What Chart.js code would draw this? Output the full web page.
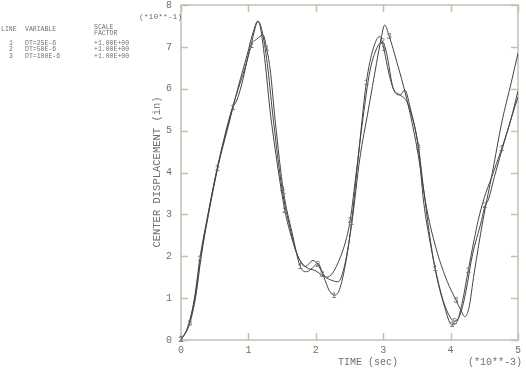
<!DOCTYPE html>
<html>
<head>
<meta charset="utf-8">
<script src="https://cdn.jsdelivr.net/npm/chart.js@4/dist/chart.umd.min.js"></script>
<style>
  html, body { margin: 0; padding: 0; background: #fff; }
  #contenedor { width: 526px; height: 368px; }
</style>
</head>
<body>
<div id="contenedor"><canvas id="grafico" width="526" height="368"></canvas></div>
<script>
// Datos (tiempo en *10**-3 s, desplazamiento en *10**-1 in)
const tiempo1 = [0, 0.1, 0.2, 0.28, 0.4, 0.55, 0.7, 0.77, 0.83, 0.9, 1.04, 1.12, 1.22, 1.27, 1.32, 1.4, 1.52, 1.65, 1.77, 1.86, 1.95, 2.03, 2.12, 2.2, 2.27, 2.35, 2.45, 2.53, 2.62, 2.75, 2.85, 2.95, 3.01, 3.08, 3.15, 3.25, 3.35, 3.45, 3.52, 3.6, 3.68, 3.77, 3.9, 4.02, 4.1, 4.18, 4.26, 4.35, 4.41, 4.5, 4.6, 4.76, 4.9, 5.0];
const despl1  = [0, 0.3, 1.0, 1.95, 3.0, 4.2, 5.15, 5.55, 5.73, 6.1, 7.04, 7.18, 7.28, 6.95, 6.5, 5.2, 3.55, 2.55, 1.75, 1.63, 1.72, 1.83, 1.5, 1.18, 1.07, 1.2, 1.9, 2.8, 4.2, 6.15, 6.95, 7.25, 6.95, 6.4, 6.0, 5.85, 5.7, 5.2, 4.65, 3.6, 2.6, 1.7, 0.85, 0.36, 0.45, 0.95, 1.65, 2.4, 2.86, 3.4, 3.85, 4.58, 5.3, 5.95];

const tiempo2 = [0, 0.1, 0.2, 0.3, 0.42, 0.54, 0.7, 0.85, 0.95, 1.04, 1.1, 1.14, 1.18, 1.25, 1.32, 1.42, 1.54, 1.65, 1.75, 1.84, 1.96, 2.03, 2.1, 2.16, 2.25, 2.36, 2.45, 2.51, 2.6, 2.7, 2.8, 2.9, 2.99, 3.05, 3.15, 3.25, 3.32, 3.4, 3.52, 3.6, 3.7, 3.8, 3.92, 4.06, 4.14, 4.22, 4.32, 4.46, 4.51, 4.56, 4.65, 4.8, 4.92, 5.0];
const despl2  = [0, 0.3, 0.95, 2.05, 3.15, 4.1, 5.2, 6.0, 6.5, 7.04, 7.45, 7.6, 7.45, 6.6, 5.5, 4.3, 3.1, 2.4, 1.95, 1.75, 1.9, 1.8, 1.6, 1.5, 1.6, 1.96, 2.4, 2.86, 4.0, 5.3, 6.4, 6.95, 7.12, 6.85, 6.0, 5.85, 5.97, 5.55, 4.6, 3.3, 2.3, 1.5, 0.8, 0.45, 0.6, 1.1, 2.0, 2.86, 3.2, 3.35, 3.9, 4.75, 5.4, 5.8];

const tiempo3 = [0, 0.13, 0.22, 0.3, 0.42, 0.55, 0.7, 0.85, 0.98, 1.08, 1.14, 1.2, 1.28, 1.36, 1.5, 1.6, 1.72, 1.85, 2.0, 2.09, 2.2, 2.33, 2.43, 2.54, 2.65, 2.78, 2.9, 2.97, 3.02, 3.09, 3.2, 3.35, 3.5, 3.65, 3.8, 3.95, 4.08, 4.15, 4.21, 4.27, 4.35, 4.48, 4.62, 4.76, 4.9, 5.0];
const despl3  = [0, 0.4, 1.05, 2.0, 3.1, 4.15, 5.1, 6.05, 6.8, 7.4, 7.62, 7.4, 6.6, 5.4, 3.6, 2.8, 2.05, 1.75, 1.65, 1.55, 1.45, 1.39, 1.8, 2.86, 4.3, 5.5, 6.6, 7.2, 7.52, 7.25, 6.65, 5.75, 4.6, 3.1, 2.1, 1.4, 0.95, 0.72, 0.56, 0.75, 1.6, 2.86, 4.0, 5.2, 6.15, 6.85];

// Tiempos donde aparece el número de cada línea
const marcas1 = [0, 0.28, 0.77, 1.04, 1.27, 1.52, 1.77, 2.27, 2.53, 2.75, 3.01, 3.52, 3.77, 4.02, 4.26, 4.76];
const marcas2 = [0, 0.54, 1.04, 1.54, 2.03, 2.51, 2.99, 3.52, 4.06, 4.51];
const marcas3 = [0.13, 1.5, 2.09, 3.09, 4.08];

const lineas = ['1', '2', '3'];
const variables = ['DT=25E-6', 'DT=50E-6', 'DT=100E-6'];
const factores = ['+1.00E+00', '+1.00E+00', '+1.00E+00'];

const ticksX = [0, 1, 2, 3, 4, 5];
const ticksY = [0, 1, 2, 3, 4, 5, 6, 7, 8];

const series = [
    { t: tiempo1, d: despl1, marcas: marcas1 },
    { t: tiempo2, d: despl2, marcas: marcas2 },
    { t: tiempo3, d: despl3, marcas: marcas3 }
];

const FUENTE = '"Liberation Mono", "DejaVu Sans Mono", monospace';
const GRIS_TEXTO = '#707070';
const GRIS_MARCO = '#c6bfb0';

// Marco, marcas de escala hacia adentro y textos fijos
const marcoPlugin = {
    id: 'marco',
    beforeDatasetsDraw(chart) {
        const { ctx, chartArea: a, scales } = chart;
        ctx.save();
        ctx.strokeStyle = GRIS_MARCO;
        ctx.lineWidth = 1.5;
        ctx.strokeRect(a.left, a.top, a.right - a.left, a.bottom - a.top);
        ctx.beginPath();
        ticksX.forEach(v => {
            const px = Math.round(scales.x.getPixelForValue(v)) + 0.5;
            ctx.moveTo(px, a.bottom); ctx.lineTo(px, a.bottom - 7);
            ctx.moveTo(px, a.top); ctx.lineTo(px, a.top + 7);
        });
        ticksY.forEach(v => {
            const py = Math.round(scales.y.getPixelForValue(v)) + 0.5;
            ctx.moveTo(a.left, py); ctx.lineTo(a.left + 7, py);
            ctx.moveTo(a.right, py); ctx.lineTo(a.right - 7, py);
        });
        ctx.stroke();
        ctx.restore();
    },
    afterDatasetsDraw(chart) {
        const { ctx } = chart;
        ctx.save();
        ctx.fillStyle = GRIS_TEXTO;
        ctx.textBaseline = 'middle';

        // números sobre las curvas
        ctx.font = '9px ' + FUENTE;
        ctx.textAlign = 'center';
        series.forEach((s, i) => {
            const meta = chart.getDatasetMeta(i);
            s.marcas.forEach(m => {
                const idx = s.t.indexOf(m);
                if (idx < 0) return;
                const p = meta.data[idx];
                ctx.fillText(lineas[i], p.x, p.y);
            });
        });

        // títulos de ejes
        ctx.font = '10px ' + FUENTE;
        ctx.textAlign = 'center';
        ctx.fillText('TIME (sec)', 368, 362);
        ctx.textAlign = 'left';
        ctx.fillText('(*10**-3)', 468, 362);
        ctx.font = '8px ' + FUENTE;
        ctx.fillText('(*10**-1)', 139, 17);

        ctx.save();
        ctx.translate(157, 172);
        ctx.rotate(-Math.PI / 2);
        ctx.font = '10.5px ' + FUENTE;
        ctx.textAlign = 'center';
        ctx.fillText('CENTER DISPLACEMENT (in)', 0, 0);
        ctx.restore();

        // leyenda
        ctx.font = '6.5px ' + FUENTE;
        ctx.textAlign = 'left';
        ctx.fillText('LINE', 1, 29);
        ctx.fillText('VARIABLE', 25, 29);
        ctx.fillText('SCALE', 94, 27);
        ctx.fillText('FACTOR', 94, 33);
        lineas.forEach((l, i) => {
            const yy = 43 + i * 6.5;
            ctx.fillText(l, 9, yy);
            ctx.fillText(variables[i], 25, yy);
            ctx.fillText(factores[i], 94, yy);
        });
        ctx.restore();
    }
};

new Chart(document.getElementById('grafico'), {
    type: 'scatter',
    data: {
        datasets: series.map((s, i) => ({
            label: lineas[i],
            data: s.t.map((t, j) => ({ x: t, y: s.d[j] })),
            showLine: true,
            borderColor: '#444',
            borderWidth: 1,
            pointRadius: 0,
            cubicInterpolationMode: 'monotone'
        }))
    },
    options: {
        responsive: false,
        animation: false,
        layout: { padding: { left: 0, top: 5, right: 8, bottom: 0 } },
        plugins: { legend: { display: false }, tooltip: { enabled: false } },
        scales: {
            x: {
                type: 'linear', min: 0, max: 5,
                afterBuildTicks: s => { s.ticks = ticksX.map(v => ({ value: v })); },
                afterFit: s => { s.height = 28; s.paddingLeft = 0; s.paddingRight = 0; },
                grid: { display: false, drawTicks: false },
                border: { display: false },
                ticks: { color: GRIS_TEXTO, padding: 4, font: { family: FUENTE, size: 10 }, maxRotation: 0 }
            },
            y: {
                type: 'linear', min: 0, max: 8,
                afterBuildTicks: s => { s.ticks = ticksY.map(v => ({ value: v })); },
                afterFit: s => { s.width = 181; s.paddingTop = 0; s.paddingBottom = 0; },
                grid: { display: false, drawTicks: false },
                border: { display: false },
                ticks: { color: GRIS_TEXTO, padding: 9, font: { family: FUENTE, size: 10 } }
            }
        }
    },
    plugins: [marcoPlugin]
});
</script>
</body>
</html>
